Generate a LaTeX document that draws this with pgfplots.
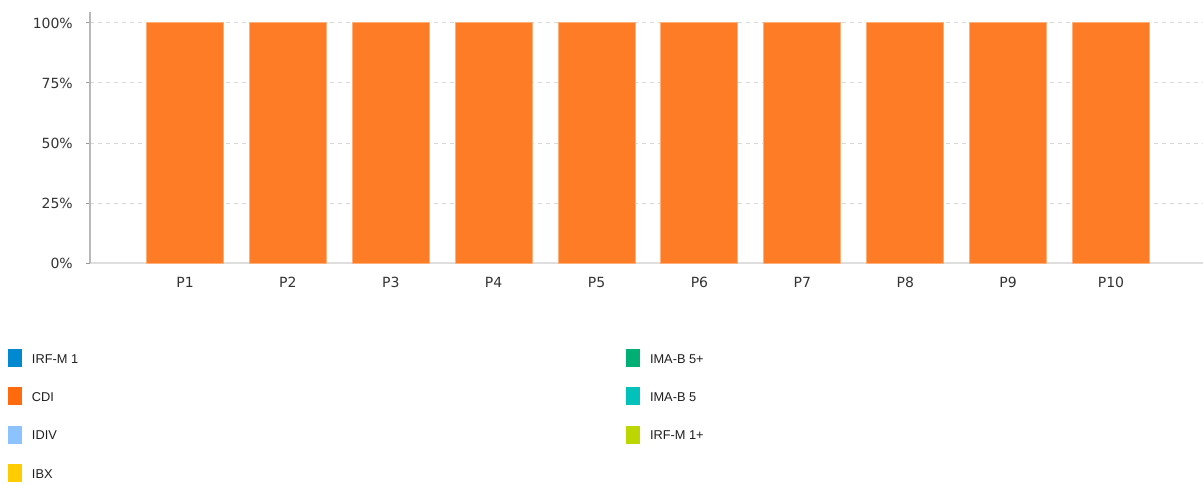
\documentclass[border=0pt]{standalone}
\usepackage{pgfplots}
\pgfplotsset{compat=1.18}
\usepackage{fontspec}
\setmainfont{Liberation Sans}
\newfontfamily\tickfont{DejaVu Sans}

\definecolor{irfm1}{HTML}{0088D1}
\definecolor{cdi}{HTML}{FF6A0D}
\definecolor{idiv}{HTML}{8CC3FF}
\definecolor{ibx}{HTML}{FFCC00}
\definecolor{imab5p}{HTML}{00AF73}
\definecolor{imab5}{HTML}{00C2BB}
\definecolor{irfm1p}{HTML}{BCD600}
\definecolor{barfill}{HTML}{FF7C26}
\definecolor{baredge}{HTML}{FFB07A}
\definecolor{ticktext}{HTML}{333333}
\definecolor{legtext}{HTML}{1E1E1E}

\pgfplotsset{
  swatch/.style={
    hide axis, scale only axis, width=10pt, height=10pt,
    xmin=0, xmax=1, ymin=0, ymax=1,
    legend image code/.code={\fill[##1, draw=none] (0pt,-7.5pt) rectangle (14pt,10.5pt);},
    legend style={at={(0,1)}, anchor=north west, draw=none, fill=none,
      inner sep=0pt, outer sep=0pt, row sep=20.3pt, column sep=10pt,
      cells={anchor=west},
      nodes={inner sep=0pt, outer sep=0pt, text=legtext,
        font=\fontsize{12.8}{14}\selectfont}},
  },
}

\begin{document}
\begin{tikzpicture}[x=1pt,y=1pt]
\path[use as bounding box] (0,0) rectangle (1203,-483);

% allocation per portfolio
\begin{axis}[
  at={(90pt,-263pt)}, anchor=south west,
  scale only axis, width=1113pt, height=251pt,
  xmin=0.0768, xmax=10.894, ymin=0, ymax=104.58,
  axis x line*=bottom, axis y line*=left,
  x axis line style={-, draw=black!13, line width=1.5pt},
  y axis line style={-, draw=black!28, line width=1.5pt},
  xtick={1,...,10},
  xticklabels={P1,P2,P3,P4,P5,P6,P7,P8,P9,P10},
  ytick={0,25,50,75,100},
  yticklabel={\pgfmathprintnumber{\tick}\%},
  /pgf/number format/assume math mode=true,
  tick align=outside, major tick length=4pt,
  xtick style={draw=none},
  ytick style={draw=black!40, line width=1pt},
  ticklabel style={font=\tickfont\fontsize{14}{16}\selectfont, text=ticktext, inner sep=0pt},
  yticklabel style={anchor=east, xshift=-13pt},
  xticklabel style={anchor=north, yshift=-10pt},
  ymajorgrids,
  grid style={draw=black!15, line width=1pt, dash pattern=on 4pt off 4pt},
]
\addplot[ybar, bar width=77pt, bar shift=0pt, fill=barfill, draw=baredge, line width=1pt]
  coordinates {(1,100) (2,100) (3,100) (4,100) (5,100) (6,100) (7,100) (8,100) (9,100) (10,100)};
\end{axis}

% legend, first column
\begin{axis}[swatch, at={(8pt,-349pt)}, anchor=north west]
\addlegendimage{fill=irfm1}\addlegendentry{IRF-M 1}
\addlegendimage{fill=cdi}\addlegendentry{CDI}
\addlegendimage{fill=idiv}\addlegendentry{IDIV}
\addlegendimage{fill=ibx}\addlegendentry{IBX}
\end{axis}

% legend, second column
\begin{axis}[swatch, at={(626pt,-349pt)}, anchor=north west]
\addlegendimage{fill=imab5p}\addlegendentry{IMA-B 5+}
\addlegendimage{fill=imab5}\addlegendentry{IMA-B 5}
\addlegendimage{fill=irfm1p}\addlegendentry{IRF-M 1+}
\end{axis}
\end{tikzpicture}
\end{document}
